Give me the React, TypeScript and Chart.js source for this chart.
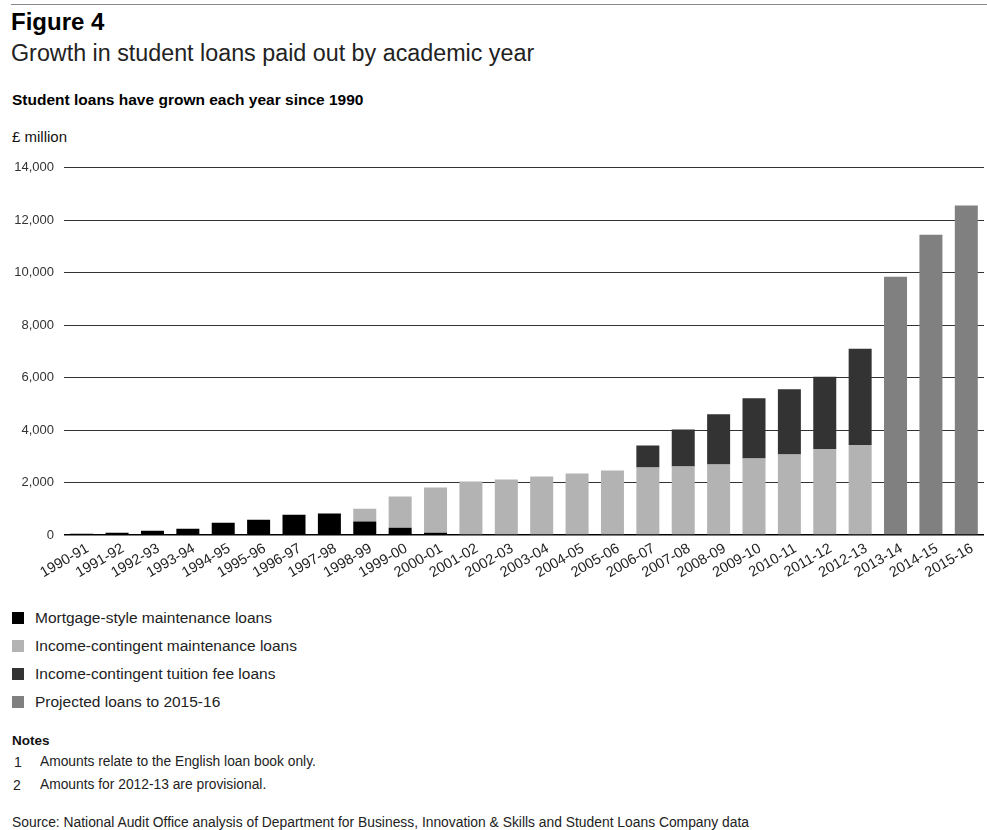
import React, { useEffect, useRef } from "react";
import { Chart, registerables } from "chart.js";

Chart.register(...registerables);

const years = [
  "1990-91", "1991-92", "1992-93", "1993-94", "1994-95", "1995-96", "1996-97",
  "1997-98", "1998-99", "1999-00", "2000-01", "2001-02", "2002-03", "2003-04",
  "2004-05", "2005-06", "2006-07", "2007-08", "2008-09", "2009-10", "2010-11",
  "2011-12", "2012-13", "2013-14", "2014-15", "2015-16",
];

const mortgageMaintenance = [
  50, 90, 165, 240, 470, 585, 775, 815, 510, 280, 90,
  null, null, null, null, null, null, null, null, null, null, null, null, null, null, null,
];

const icMaintenance = [
  null, null, null, null, null, null, null, null, 495, 1185, 1720,
  2040, 2115, 2230, 2345, 2460, 2575, 2610, 2690, 2920, 3070, 3280, 3435,
  null, null, null,
];

const icTuitionFee = [
  null, null, null, null, null, null, null, null, null, null, null,
  null, null, null, null, null, 840, 1415, 1910, 2290, 2485, 2750, 3665,
  null, null, null,
];

const projected = [
  null, null, null, null, null, null, null, null, null, null, null,
  null, null, null, null, null, null, null, null, null, null, null, null,
  9850, 11450, 12560,
];

const seriesNames = [
  "Mortgage-style maintenance loans",
  "Income-contingent maintenance loans",
  "Income-contingent tuition fee loans",
  "Projected loans to 2015-16",
];
const seriesColors = ["#000000", "#b3b3b3", "#333333", "#808080"];

const yTicks = [0, 2000, 4000, 6000, 8000, 10000, 12000, 14000];

const FONT = "'Liberation Sans', Arial, Helvetica, sans-serif";

export default function App() {
  const canvasRef = useRef<HTMLCanvasElement | null>(null);

  useEffect(() => {
    document.body.style.margin = "0";
    const canvas = canvasRef.current;
    if (!canvas) return;
    const seriesData = [mortgageMaintenance, icMaintenance, icTuitionFee, projected];
    const chart = new Chart(canvas, {
      type: "bar",
      data: {
        labels: years,
        datasets: seriesData.map((d, i) => ({
          label: seriesNames[i],
          data: d,
          backgroundColor: seriesColors[i],
          borderWidth: 0,
          categoryPercentage: 1,
          barPercentage: 0.65,
        })),
      },
      options: {
        animation: false,
        responsive: false,
        maintainAspectRatio: false,
        layout: { padding: { top: 16, right: 3, left: 0, bottom: 0 } },
        plugins: {
          legend: { display: false },
          tooltip: { enabled: false },
        },
        scales: {
          x: {
            stacked: true,
            grid: { display: false, drawTicks: false },
            border: { display: false },
            ticks: {
              autoSkip: false,
              maxRotation: 30,
              minRotation: 30,
              color: "#222",
              font: { family: FONT, size: 14.5 },
              padding: 5,
              labelOffset: 6,
            },
            afterFit: (scale: any) => {
              scale.height = 55;
            },
          },
          y: {
            stacked: true,
            min: 0,
            max: 14000,
            afterBuildTicks: (scale: any) => {
              scale.ticks = yTicks.map((v) => ({ value: v }));
            },
            ticks: {
              color: "#333",
              font: { family: FONT, size: 13 },
              padding: 10,
              callback: (v: any) => Number(v).toLocaleString("en-US"),
            },
            grid: {
              drawTicks: false,
              color: (ctx: any) => (ctx.tick && ctx.tick.value === 0 ? "#000" : "#333"),
              lineWidth: (ctx: any) => (ctx.tick && ctx.tick.value === 0 ? 1.5 : 1),
            },
            border: { display: false },
            afterFit: (scale: any) => {
              scale.width = 64;
            },
          },
        },
      },
    });
    return () => chart.destroy();
  }, []);

  const text = (
    content: React.ReactNode,
    top: number,
    left: number,
    size: number,
    lh: number,
    extra: React.CSSProperties = {}
  ) => (
    <div
      style={{
        position: "absolute",
        top,
        left,
        fontSize: size,
        lineHeight: lh + "px",
        fontFamily: FONT,
        color: "#111",
        whiteSpace: "nowrap",
        ...extra,
      }}
    >
      {content}
    </div>
  );

  return (
    <div style={{ position: "relative", width: 987, height: 830, overflow: "hidden", background: "#fff" }}>
      <div style={{ position: "absolute", top: 4, left: 11, right: 0, height: 1, background: "#8a8a8a" }} />
      {text("Figure 4", 8, 11, 24, 28, { fontWeight: "bold", color: "#000" })}
      {text("Growth in student loans paid out by academic year", 39, 11, 23.3, 28, { color: "#222" })}
      {text("Student loans have grown each year since 1990", 90, 12, 15.5, 20, { fontWeight: "bold", color: "#000" })}
      {text("£ million", 127, 12, 15, 20)}
      <canvas
        ref={canvasRef}
        width={987}
        height={440}
        style={{ position: "absolute", top: 150, left: 0, width: 987, height: 440 }}
      />
      {seriesNames.map((name, i) => (
        <div key={name}>
          <div
            style={{
              position: "absolute",
              top: 612 + i * 28,
              left: 12,
              width: 12,
              height: 12,
              background: seriesColors[i],
            }}
          />
          {text(name, 608 + i * 28, 35, 15.5, 20, { color: "#222" })}
        </div>
      ))}
      {text("Notes", 732, 12, 13.5, 18, { fontWeight: "bold", color: "#111" })}
      {text("1", 753, 14, 14, 18, { color: "#222" })}
      {text("Amounts relate to the English loan book only.", 753, 40, 13.8, 18, { color: "#222" })}
      {text("2", 776, 13, 14, 18, { color: "#222" })}
      {text("Amounts for 2012-13 are provisional.", 776, 40, 13.8, 18, { color: "#222" })}
      {text(
        "Source: National Audit Office analysis of Department for Business, Innovation & Skills and Student Loans Company data",
        813,
        12,
        13.85,
        18,
        { color: "#222" }
      )}
    </div>
  );
}
